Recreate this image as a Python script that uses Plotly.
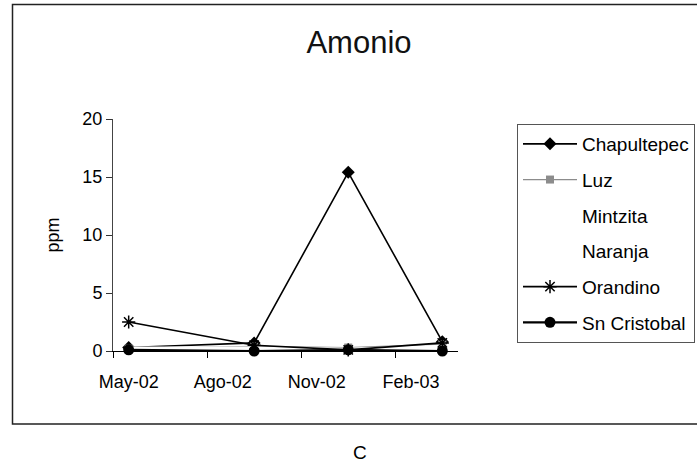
import pandas as pd
import plotly.graph_objects as go

# Sampling dates (month of sampling) and ammonium readings in ppm
sample_months = ["2002-05", "2002-09", "2002-12", "2003-03"]
chapultepec = [0.3, 0.7, 15.4, 0.8]
luz = [0.2, 0.4, 0.3, 0.6]
mintzita = [0.3, 0.3, 0.2, 0.4]
naranja = [0.2, 0.2, 0.1, 0.3]
orandino = [2.5, 0.5, 0.1, 0.7]
sn_cristobal = [0.1, 0.0, 0.1, 0.0]

# Month axis: labels every three months, starting May 2002
start_month = pd.Period("2002-05", freq="M")
end_month = pd.Period("2003-03", freq="M")
tick_labels = ["May-02", "Ago-02", "Nov-02", "Feb-03"]
tick_months = ["2002-05", "2002-08", "2002-11", "2003-02"]


def month_index(m):
    return (pd.Period(m, freq="M") - start_month).n


x = [month_index(m) for m in sample_months]
tick_pos = [month_index(m) for m in tick_months]
n_months = (end_month - start_month).n + 1

FONT = "Liberation Sans, Arial, sans-serif"
W, H = 697, 467
ML, MR, MT, MB = 113, 239, 119, 116
PW, PH = W - ML - MR, H - MT - MB


def px_to_paper_x(px):
    return (px - ML) / PW


def px_to_paper_y(py):
    return (H - MB - py) / PH


series = [
    ("Chapultepec", chapultepec, dict(color="black", width=1.6),
     dict(symbol="diamond", size=10, color="black")),
    ("Luz", luz, dict(color="#8c8c8c", width=1.2),
     dict(symbol="square", size=8, color="#8c8c8c")),
    ("Mintzita", mintzita, dict(color="white", width=2),
     dict(symbol="circle", size=1, color="white")),
    ("Naranja", naranja, dict(color="white", width=2),
     dict(symbol="circle", size=1, color="white")),
    ("Orandino", orandino, dict(color="black", width=1.6),
     dict(symbol="asterisk-open", size=11, color="black",
          line=dict(color="black", width=1.5))),
    ("Sn Cristobal", sn_cristobal, dict(color="black", width=2.2),
     dict(symbol="circle", size=11, color="black")),
]

fig = go.Figure()
for name, vals, line, marker in series:
    fig.add_trace(go.Scatter(
        x=x, y=vals, name=name, mode="lines+markers",
        line=line, marker=marker, legendgroup=name,
        cliponaxis=False,
    ))

fig.update_layout(
    width=W, height=H,
    margin=dict(l=ML, r=MR, t=MT, b=MB, autoexpand=False),
    paper_bgcolor="white", plot_bgcolor="white",
    font=dict(family=FONT, color="black", size=18),
    title=dict(text="Amonio", x=359 / W, xanchor="center",
               xref="container", yref="container",
               y=1 - 42 / H, yanchor="middle",
               font=dict(family=FONT, size=31, color="#111")),
    showlegend=True,
    legend=dict(
        x=px_to_paper_x(517), y=px_to_paper_y(124),
        xanchor="left", yanchor="top",
        bordercolor="#555", borderwidth=1, bgcolor="white",
        font=dict(family=FONT, size=19, color="black"),
        tracegroupgap=8, itemwidth=54, traceorder="grouped",
    ),
    xaxis=dict(
        range=[-0.5, n_months - 0.5],
        tickmode="array", tickvals=tick_pos, ticktext=tick_labels,
        ticks="", showgrid=False, zeroline=False,
        showline=True, linecolor="black", linewidth=1,
        ticklabelstandoff=14,
        tickfont=dict(family=FONT, size=18),
        minor=dict(tickmode="array",
                   tickvals=[p - 0.5 for p in tick_pos],
                   ticks="outside", ticklen=6, tickcolor="black",
                   showgrid=False),
    ),
    yaxis=dict(
        range=[0, 20], tickmode="array", tickvals=[0, 5, 10, 15, 20],
        ticks="outside", ticklen=6, tickcolor="#333",
        showgrid=False, zeroline=False,
        showline=True, linecolor="#444", linewidth=1,
        tickfont=dict(family=FONT, size=18),
        title=dict(text="ppm", standoff=18,
                   font=dict(family=FONT, size=18)),
    ),
)

# Outer chart frame and caption letter
fig.add_shape(type="rect", xref="paper", yref="paper",
              x0=px_to_paper_x(12.5), x1=px_to_paper_x(W + 5),
              y0=px_to_paper_y(424), y1=px_to_paper_y(4.5),
              line=dict(color="#222", width=1.5), layer="below")
fig.add_annotation(text="C", xref="paper", yref="paper",
                   x=px_to_paper_x(360), y=px_to_paper_y(452),
                   showarrow=False, xanchor="center", yanchor="middle",
                   font=dict(family=FONT, size=19, color="black"))

fig.write_html("out.html")
